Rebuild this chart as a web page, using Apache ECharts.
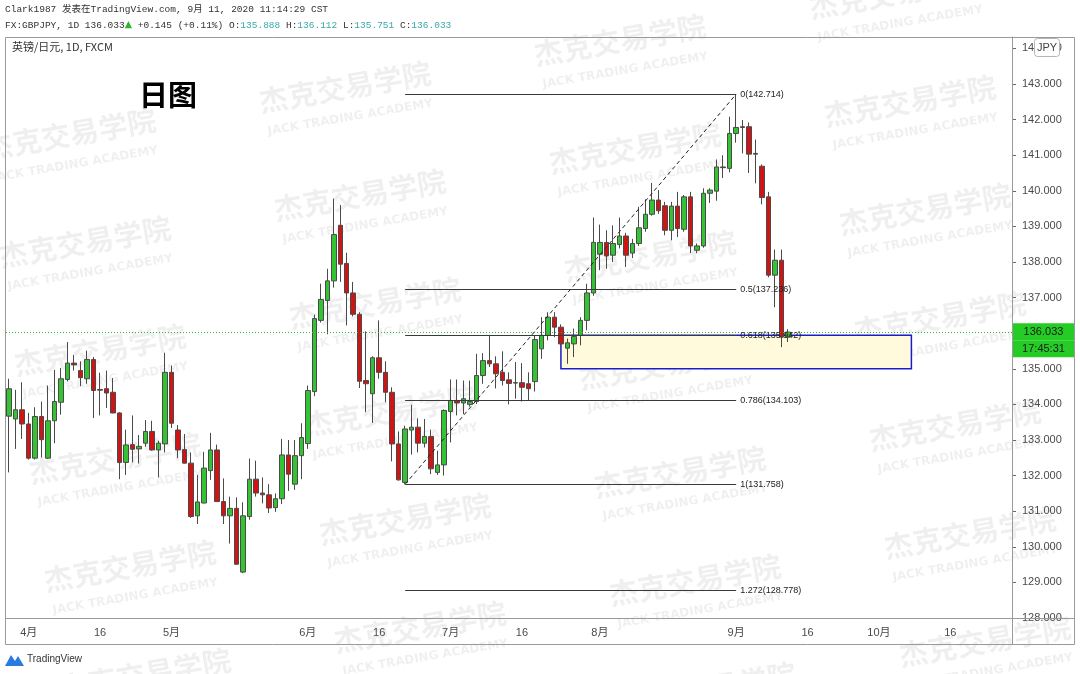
<!DOCTYPE html>
<html><head><meta charset="utf-8">
<script src="https://cdn.jsdelivr.net/npm/echarts/dist/echarts.min.js"></script>
<style>html,body{margin:0;padding:0;background:#fff;}#c{width:1080px;height:674px;}</style>
</head><body><div id="c"></div>
<script>
// ---- categories: FX trading days (weekdays) 2020-03-27 .. 2020-10-29 ----
const categories = [
'03-27','03-30','03-31',
'04-01','04-02','04-03','04-06','04-07','04-08','04-09','04-10','04-13','04-14','04-15','04-16','04-17','04-20','04-21','04-22','04-23','04-24','04-27','04-28','04-29','04-30',
'05-01','05-04','05-05','05-06','05-07','05-08','05-11','05-12','05-13','05-14','05-15','05-18','05-19','05-20','05-21','05-22','05-25','05-26','05-27','05-28','05-29',
'06-01','06-02','06-03','06-04','06-05','06-08','06-09','06-10','06-11','06-12','06-15','06-16','06-17','06-18','06-19','06-22','06-23','06-24','06-25','06-26','06-29','06-30',
'07-01','07-02','07-03','07-06','07-07','07-08','07-09','07-10','07-13','07-14','07-15','07-16','07-17','07-20','07-21','07-22','07-23','07-24','07-27','07-28','07-29','07-30','07-31',
'08-03','08-04','08-05','08-06','08-07','08-10','08-11','08-12','08-13','08-14','08-17','08-18','08-19','08-20','08-21','08-24','08-25','08-26','08-27','08-28','08-31',
'09-01','09-02','09-03','09-04','09-07','09-08','09-09','09-10','09-11','09-14','09-15','09-16','09-17','09-18','09-21','09-22','09-23','09-24','09-25','09-28','09-29','09-30',
'10-01','10-02','10-05','10-06','10-07','10-08','10-09','10-12','10-13','10-14','10-15','10-16','10-19','10-20','10-21','10-22','10-23','10-26','10-27','10-28','10-29'
];
// ---- daily candles [open, high, low, close] from 03-27 to 09-11 ----
const ohlc = [
[133.67,134.72,132.09,134.44],[133.59,134.41,132.75,133.85],[133.85,134.62,133.03,133.45],[133.45,133.76,132.45,132.49],
[132.49,133.92,132.45,133.66],[133.66,134.08,132.51,133.01],[132.49,134.53,132.47,133.54],[133.54,134.97,132.91,134.08],
[134.06,135.02,133.71,134.72],[134.70,135.75,134.65,135.16],[135.16,135.39,134.95,135.11],[134.95,135.21,134.51,134.75],
[134.72,135.51,134.58,135.26],[135.26,135.33,133.62,134.39],[134.42,134.89,133.69,134.40],[134.44,134.95,133.90,134.32],
[134.34,134.74,133.75,133.76],[133.76,133.78,131.90,132.37],[132.37,133.29,132.02,132.86],[132.87,133.69,132.37,132.74],
[132.75,133.14,132.34,132.82],[132.91,133.56,132.81,133.24],[133.24,133.54,132.70,132.72],[132.72,132.98,131.95,132.91],
[132.89,135.45,132.65,134.90],[134.90,135.09,133.34,133.47],[133.28,133.42,132.49,132.72],[132.73,133.17,132.34,132.35],
[132.35,132.65,130.81,130.85],[130.87,132.02,130.64,131.26],[131.23,132.67,131.22,132.21],[132.14,133.20,131.88,132.72],
[132.72,132.87,131.26,131.27],[131.27,131.92,130.64,130.87],[130.87,131.41,130.09,131.08],[131.08,131.39,129.50,129.51],
[129.29,131.25,129.26,130.87],[130.85,132.48,130.76,131.90],[131.90,132.42,131.41,131.51],[131.51,131.95,131.22,131.46],
[131.46,131.76,130.95,131.09],[131.10,131.50,130.98,131.35],[131.35,133.03,131.20,132.58],[132.58,133.00,131.57,132.04],
[131.76,133.00,131.60,132.56],[132.56,133.47,131.90,133.07],[132.90,134.53,132.75,134.39],[134.36,136.52,134.23,136.41],
[136.36,137.39,136.30,136.95],[136.92,137.81,135.97,137.47],[137.47,139.78,137.28,138.77],[139.03,139.60,137.44,137.94],
[137.96,138.26,136.22,137.13],[137.13,137.44,136.47,136.53],[136.53,136.59,134.46,134.65],[134.67,136.05,133.78,134.58],
[134.30,135.35,133.48,135.31],[135.31,136.36,134.72,134.90],[134.90,135.21,134.06,134.34],[134.34,134.48,132.40,132.89],
[132.89,133.24,131.86,131.88],[131.81,133.40,131.758,133.31],[133.28,133.99,132.59,133.36],[133.36,133.61,132.65,132.91],
[132.91,133.59,132.79,133.10],[133.10,133.29,132.04,132.19],[132.09,132.70,132.02,132.30],[132.30,133.86,132.00,133.83],
[133.80,134.70,132.93,134.11],[134.11,134.70,133.69,134.04],[134.04,134.67,133.73,134.16],[134.00,134.67,133.94,134.08],
[134.08,135.42,134.01,134.81],[134.81,135.44,134.58,135.23],[135.23,135.94,135.05,135.14],[135.14,135.35,134.45,134.86],
[134.90,135.49,134.53,134.67],[134.69,134.90,134.00,134.59],[134.61,135.19,134.16,134.60],[134.61,135.16,134.08,134.48],
[134.58,134.90,134.11,134.44],[134.64,135.94,134.36,135.82],[135.56,136.45,135.28,135.94],[135.94,136.59,135.80,136.45],
[136.45,136.59,135.89,136.17],[136.17,136.25,135.63,135.70],[135.58,135.85,135.14,135.73],[135.70,136.13,135.33,135.91],
[135.94,136.45,135.66,136.36],[136.36,137.39,136.08,137.13],[137.13,139.25,137.05,138.55],[138.22,139.05,137.77,138.55],
[138.55,138.89,137.81,138.17],[138.19,139.03,138.00,138.52],[138.49,139.25,138.38,138.73],[138.73,138.82,137.86,138.19],
[138.25,138.65,138.11,138.52],[138.52,139.55,138.45,138.96],[138.94,139.76,138.85,139.34],[139.34,140.22,139.30,139.74],
[139.74,140.02,139.35,139.44],[139.58,139.69,138.75,138.89],[138.89,139.69,138.61,139.57],[139.57,139.97,138.70,138.94],
[138.92,139.88,138.85,139.83],[139.83,139.97,138.25,138.45],[138.33,138.52,138.25,138.45],[138.45,140.07,138.40,139.93],
[139.93,140.07,139.66,140.02],[139.99,140.88,139.72,140.67],[140.67,141.00,140.36,140.65],[140.63,142.08,140.52,141.61],
[141.61,142.714,141.35,141.78],[141.80,141.99,141.05,141.78],[141.80,141.92,140.50,141.03],[141.05,141.44,140.21,141.03],
[140.69,140.74,139.62,139.81],[139.83,139.97,137.57,137.63],[137.63,138.35,136.73,138.05],[138.05,138.35,135.61,135.89],
[135.888,136.112,135.751,136.033]
];
// ---- x tick labels ----
const tickDates = ['04-01','04-16','05-01','06-01','06-16','07-01','07-16','08-03','09-01','09-16','10-01','10-16'];
const tickTexts = ['4月','16','5月','6月','16','7月','16','8月','9月','16','10月','16'];
// ---- fibonacci retracement ----
const fibRatios = ['0','0.5','0.618','0.786','1','1.272'];
const fibLevels = [142.714,137.236,135.942,134.103,131.758,128.778];
const fibStart = '06-22', fibEnd = '09-01';
// ---- highlighted zone ----
const zoneX = ['07-24','10-08'];
const zoneY = [135.943,135.0];
// ---- last price ----
const countdown = '17:45:31';
const prevClose = 135.888;

const last = ohlc[ohlc.length-1];
const lastPrice = last[3];
const chg = lastPrice - prevClose;

const chart = echarts.init(document.getElementById('c'));

const wm = [];
for (let i=0;i<4;i++) for (let j=-2;j<=4;j++) {
  const x = 100 + 275*i + 15*j, y = 350 - 47*i + 108*j;
  if (x<-120||x>1200||y<-40||y>720) continue;
  wm.push({type:'group', x:x, y:y, rotation:0.17, silent:true, z:100, children:[
    {type:'text', x:0, y:0, style:{text:'杰克交易学院', font:'bold 29px "Noto Sans CJK SC"', fill:'rgba(0,0,0,0.062)', textAlign:'center', textVerticalAlign:'middle'}},
    {type:'text', x:0, y:31, style:{text:'JACK TRADING ACADEMY', font:'bold 12px "DejaVu Sans"', fill:'rgba(0,0,0,0.062)', textAlign:'center', textVerticalAlign:'middle'}}
  ]});
}

const fibLines = fibLevels.map((lv,k)=>[
  {coord:[fibStart, lv], lineStyle:{color:'#3a3a3a', width:1, type:'solid'},
   label:{show:true, position:'end', distance:4, formatter: fibRatios[k]+'('+lv.toFixed(3)+')', fontSize:9, color:'#222', fontFamily:'Liberation Sans'}},
  {coord:[fibEnd, lv]}
]);
const diag = [
  {coord:[fibStart, fibLevels[4]], lineStyle:{color:'#222', width:1, type:[4,3]}, label:{show:false}},
  {coord:[fibEnd, fibLevels[0]]}
];

const option = {
  animation:false,
  backgroundColor:'#ffffff',
  grid:{left:6, right:68, top:37, bottom:56},
  xAxis:{type:'category', data:categories, boundaryGap:true,
    axisLine:{show:true, lineStyle:{color:'#8c8c8c'}},
    axisTick:{show:false}, splitLine:{show:false},
    axisLabel:{interval:(i,v)=>tickDates.indexOf(v)>=0, formatter:v=>{const k=tickDates.indexOf(v);return k>=0?tickTexts[k]:'';},
      color:'#4a4a4a', fontSize:11, margin:9, fontFamily:'"Liberation Sans","Noto Sans CJK SC"'}},
  yAxis:{type:'value', position:'right', min:128, max:144.32, interval:1,
    splitLine:{show:false},
    axisLine:{show:true, lineStyle:{color:'#8c8c8c'}},
    axisTick:{show:true, length:4, lineStyle:{color:'#666'}},
    axisLabel:{formatter:v=>Math.abs(v-Math.round(v))>1e-6?'':v.toFixed(3), color:'#4a4a4a', fontSize:11, margin:10, fontFamily:'Liberation Sans'}},
  series:[{
    type:'candlestick', barWidth:5,
    data: ohlc.map(r=>[r[0], r[3], r[2], r[1]]),
    itemStyle:{color:'#33c333', color0:'#d01414', borderColor:'#4a4a4a', borderColor0:'#4a4a4a', borderWidth:1},
    markArea:{silent:true, itemStyle:{color:'#fffadc', borderColor:'#1c1cc8', borderWidth:1.5},
      data:[[{coord:[zoneX[0], zoneY[0]]},{coord:[zoneX[1], zoneY[1]]}]]},
    markLine:{silent:true, symbol:['none','none'], animation:false,
      data:[...fibLines, diag,
        {yAxis:lastPrice, lineStyle:{color:'#2fb52f', width:1, type:[1,2]},
         label:{show:true, position:'end', distance:0, offset:[0,8],
           formatter:'{a|'+lastPrice.toFixed(3)+'}\n{b|'+countdown+'}',
           rich:{a:{backgroundColor:'#25cc25', color:'#1a1a1a', width:57, height:16, lineHeight:17, align:'center', fontSize:11, fontFamily:'Liberation Sans', padding:[1,3,0,3]},
                 b:{backgroundColor:'#25cc25', color:'#1a1a1a', width:57, height:16, lineHeight:17, align:'center', fontSize:11, fontFamily:'Liberation Sans', padding:[1,3,0,3]}}}}
      ]}
  }],
  graphic:[
    {type:'rect', shape:{x:5.5,y:37.5,width:1069,height:607}, style:{fill:'none', stroke:'#9a9a9a', lineWidth:1}, silent:true, z:50},
    {type:'line', shape:{x1:1012.5,y1:37,x2:1012.5,y2:645}, style:{stroke:'#9a9a9a', lineWidth:1}, silent:true, z:50},
    {type:'line', shape:{x1:5,y1:618.5,x2:1075,y2:618.5}, style:{stroke:'#9a9a9a', lineWidth:1}, silent:true, z:50},
    {type:'text', left:5, top:5, silent:true, style:{text:'Clark1987 发表在TradingView.com, 9月 11, 2020 11:14:29 CST',
      font:'9.5px "Liberation Mono","Noto Sans CJK SC"', fill:'#333'}},
    {type:'text', left:5, top:20, silent:true, style:{
      text:'{t|FX:GBPJPY, 1D '+lastPrice.toFixed(3)+'}{g|▲}{t| '+(chg>=0?'+':'')+chg.toFixed(3)+' ('+(chg>=0?'+':'')+(chg/prevClose*100).toFixed(2)+'%) O:}{v|'+last[0].toFixed(3)+'}{t| H:}{v|'+last[1].toFixed(3)+'}{t| L:}{v|'+last[2].toFixed(3)+'}{t| C:}{v|'+last[3].toFixed(3)+'}',
      rich:{t:{font:'9.5px "Liberation Mono"', fill:'#333', color:'#333'},
            g:{font:'9.5px "DejaVu Sans"', fill:'#2db52d', color:'#2db52d'},
            v:{font:'9.5px "Liberation Mono"', fill:'#3aa9a9', color:'#3aa9a9'}}}},
    {type:'text', left:12, top:41, silent:true, style:{text:'英镑/日元, 1D, FXCM', font:'11px "Noto Sans CJK SC"', fill:'#333'}},
    {type:'text', left:139, top:80, silent:true, style:{text:'日图', font:'bold 29px "Noto Sans CJK SC"', fill:'#000'}},
    {type:'rect', shape:{x:1034.5,y:38.5,width:25,height:18,r:3}, style:{fill:'#fff', stroke:'#b5b5b5', lineWidth:1}, silent:true, z:60},
    {type:'text', x:1047, y:47.5, silent:true, z:61, style:{text:'JPY', font:'11px "Liberation Sans"', fill:'#444', textAlign:'center', textVerticalAlign:'middle'}},
    {type:'polygon', shape:{points:[[5,666],[11,655],[15,661],[18,656],[24,666]]}, style:{fill:'#2a7be0'}, silent:true},
    {type:'text', left:27, top:654, silent:true, style:{text:'TradingView', font:'10px "Liberation Sans"', fill:'#333'}},
    ...wm
  ]
};
chart.setOption(option);
</script></body></html>
